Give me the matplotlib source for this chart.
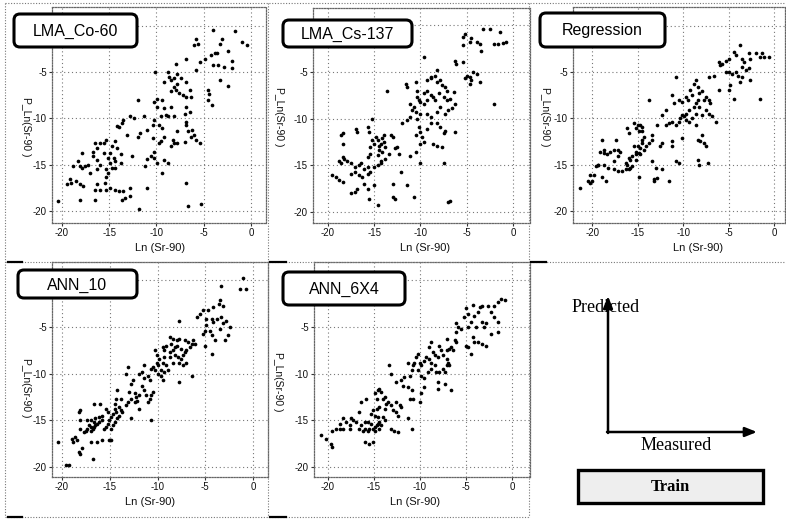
import matplotlib
matplotlib.use("Agg")
import matplotlib.pyplot as plt
from matplotlib.patches import FancyBboxPatch, Rectangle

# ---------------- data ----------------
x_ticks = [-20, -15, -10, -5, 0]
x_tick_labels = ['-20', '-15', '-10', '-5', '0']
y_ticks = [-20, -15, -10, -5, 0]
y_tick_labels = ['-20', '-15', '-10', '-5', '']
panel_titles = ['LMA_Co-60', 'LMA_Cs-137', 'Regression', 'ANN_10', 'ANN_6X4']
x_label = 'Ln (Sr-90)'
y_label = 'P_Ln(Sr-90 )'

co60_x = [-4.0,-1.7,-5.8,-5.6,-6.0,-3.1,-3.3,-1.0,-0.4,-2.4,
          -3.8,-4.2,-3.6,-4.9,-5.4,-6.9,-2.0,-3.5,-4.0,-2.9,
          -2.0,-7.9,-8.8,-10.2,-8.7,-8.5,-8.1,-7.8,-7.4,-5.8,
          -6.9,-7.8,-9.2,-8.1,-3.3,-2.4,-4.5,-4.4,-8.5,-7.9,
          -7.6,-7.2,-6.5,-6.3,-6.9,-4.5,-4.1,-9.4,-9.9,-10.3,
          -12.0,-9.9,-9.2,-8.5,-8.1,-9.0,-9.5,-6.9,-6.5,-7.0,
          -6.9,-6.9,-8.8,-12.8,-11.3,-12.4,-13.5,-13.7,-14.2,-10.3,
          -10.4,-11.0,-11.7,-13.1,-14.0,-12.0,-9.7,-9.4,-9.2,-9.5,
          -9.7,-10.4,-7.8,-8.3,-8.1,-7.8,-7.0,-6.7,-6.2,-6.3,
          -6.0,-5.8,-5.4,-8.5,-10.3,-10.6,-10.3,-9.2,-9.9,-8.8,
          -11.2,-9.4,-11.0,-12.6,-13.8,-14.2,-14.7,-14.4,-15.3,-15.6,
          -16.0,-16.5,-16.3,-16.7,-15.6,-14.9,-15.1,-14.5,-14.4,-14.9,
          -13.8,-14.4,-14.7,-15.3,-15.1,-16.7,-16.3,-17.2,-17.6,-17.9,
          -18.1,-18.3,-18.8,-17.9,-17.0,-16.3,-16.0,-15.3,-15.4,-16.3,
          -19.2,-18.5,-18.1,-17.8,-19.5,-19.0,-16.5,-16.0,-15.3,-14.9,
          -14.4,-14.0,-13.5,-12.8,-11.0,-6.9,-13.7,-13.3,-12.8,-18.1,
          -16.5,-20.4,-11.9,-6.7,-5.3]
co60_y = [-0.5,-0.6,-1.5,-2.0,-2.1,-1.4,-2.0,-1.8,-2.1,-2.7,
          -3.0,-3.2,-3.0,-3.6,-3.9,-3.6,-3.8,-4.3,-4.3,-4.5,
          -4.6,-4.2,-5.0,-5.0,-5.5,-5.9,-5.7,-5.2,-5.7,-4.8,
          -6.1,-6.3,-6.1,-6.6,-5.9,-6.5,-7.0,-7.4,-7.1,-7.0,
          -7.3,-7.5,-6.9,-7.7,-7.7,-8.0,-8.6,-8.0,-7.9,-8.2,
          -8.0,-8.8,-8.9,-8.8,-9.8,-9.6,-9.8,-8.8,-9.3,-9.5,
          -10.4,-10.7,-9.8,-9.8,-9.8,-10.0,-10.2,-10.5,-10.8,-10.2,
          -10.7,-11.3,-11.6,-11.8,-10.9,-12.0,-10.7,-11.1,-12.0,-12.5,
          -12.7,-12.1,-11.4,-12.3,-12.7,-12.7,-12.6,-11.4,-11.3,-12.0,
          -11.8,-12.3,-12.7,-13.0,-13.6,-14.1,-14.3,-14.5,-14.8,-14.8,
          -15.2,-15.9,-14.4,-14.1,-13.9,-13.2,-13.0,-12.5,-12.3,-12.7,
          -12.7,-12.7,-13.2,-13.6,-13.8,-13.8,-14.3,-14.3,-14.6,-14.8,
          -14.8,-15.4,-15.4,-15.5,-15.9,-14.1,-14.5,-15.0,-15.2,-15.4,
          -15.2,-14.6,-15.2,-13.8,-15.9,-15.5,-15.0,-16.3,-17.0,-17.1,
          -16.6,-16.8,-17.1,-17.3,-17.1,-17.0,-17.7,-17.7,-17.7,-17.5,
          -17.7,-17.8,-17.8,-17.5,-17.5,-17.0,-18.8,-18.6,-18.4,-18.8,
          -18.8,-18.9,-19.8,-19.5,-19.3]

cs137_x = [-5.2,-3.2,-2.5,-1.4,-5.4,-4.5,-4.6,-3.9,-3.6,-3.4,
           -5.4,-2.1,-1.6,-1.1,-0.7,-9.6,-6.3,-6.1,-5.4,-5.0,
           -5.2,-4.6,-4.5,-4.3,-3.9,-3.6,-4.6,-2.0,-8.2,-8.4,
           -8.8,-7.9,-7.7,-7.3,-7.1,-8.2,-8.9,-9.3,-10.5,-11.6,
           -11.4,-10.4,-9.6,-9.3,-8.9,-10.4,-10.2,-10.0,-9.6,-9.3,
           -8.6,-8.4,-8.0,-7.5,-7.1,-6.8,-6.4,-6.3,-6.6,-7.0,
           -7.3,-7.9,-8.2,-8.9,-9.3,-10.0,-10.5,-10.9,-11.1,-10.7,
           -11.1,-11.4,-12.0,-10.4,-10.2,-10.0,-10.5,-9.8,-9.3,-8.8,
           -8.2,-7.9,-7.3,-7.5,-6.3,-8.6,-8.2,-7.7,-10.0,-9.6,
           -10.5,-7.5,-11.1,-13.6,-15.2,-17.0,-16.8,-15.7,-15.5,-15.2,
           -15.0,-15.4,-15.4,-15.7,-14.8,-14.6,-14.5,-14.3,-14.1,-13.9,
           -13.8,-14.5,-14.1,-14.6,-13.9,-13.2,-13.0,-12.5,-12.7,-12.3,
           -13.4,-13.8,-14.3,-14.3,-14.6,-15.0,-15.7,-16.1,-16.4,-16.6,
           -17.1,-17.5,-17.9,-18.2,-18.4,-18.6,-18.8,-19.5,-19.1,-18.8,
           -18.4,-17.5,-17.1,-16.6,-16.3,-15.7,-15.4,-16.1,-15.0,-15.7,
           -16.8,-17.1,-17.5,-15.5,-13.0,-13.0,-12.7,-11.4,-10.7,-6.8,
           -7.0,-14.6,-18.4,-18.6,-18.4,-10.0,-12.1]
cs137_y = [-0.9,-0.4,-0.4,-0.7,-1.3,-1.4,-1.8,-1.8,-2.0,-2.7,
           -2.1,-2.0,-2.0,-1.9,-1.8,-3.4,-3.8,-4.1,-3.9,-5.4,
           -5.7,-5.5,-5.9,-5.0,-5.2,-6.1,-6.3,-8.4,-4.8,-5.4,
           -5.5,-5.9,-6.4,-6.6,-7.0,-6.1,-5.7,-5.9,-6.1,-6.3,
           -6.6,-7.0,-7.3,-7.0,-7.5,-7.7,-8.0,-8.2,-8.4,-8.0,
           -7.7,-8.0,-7.3,-7.7,-8.0,-7.9,-7.1,-8.4,-8.9,-9.1,
           -9.5,-8.8,-9.3,-9.8,-9.5,-9.5,-9.3,-9.1,-8.4,-8.8,
           -9.8,-10.2,-10.5,-10.0,-10.9,-11.4,-11.8,-12.0,-11.1,-10.5,
           -10.5,-10.9,-11.3,-11.6,-11.4,-12.7,-12.9,-13.0,-12.7,-12.5,
           -13.6,-14.8,-14.0,-7.0,-10.0,-11.1,-11.4,-10.9,-11.4,-12.3,
           -12.7,-13.0,-13.8,-14.1,-12.0,-12.3,-12.9,-12.7,-12.1,-12.5,
           -13.0,-13.4,-13.6,-13.9,-11.8,-11.8,-12.0,-13.0,-13.2,-13.8,
           -13.8,-14.3,-14.5,-14.8,-15.0,-15.2,-15.2,-15.4,-14.8,-15.0,
           -15.2,-14.8,-14.6,-14.3,-14.1,-14.8,-14.6,-16.1,-16.3,-16.6,
           -16.8,-15.9,-15.7,-16.1,-16.3,-15.9,-15.7,-17.0,-17.1,-17.5,
           -17.5,-17.9,-18.0,-18.6,-17.0,-18.4,-18.6,-17.1,-18.4,-18.8,
           -18.9,-19.3,-12.7,-11.8,-11.6,-14.8,-15.7]

reg_x = [-3.7,-4.4,-5.0,-5.7,-6.1,-5.9,-5.3,-4.2,-3.5,-3.3,
         -2.8,-2.0,-1.3,-0.6,-1.1,-1.6,-2.6,-3.1,-2.8,-3.5,
         -4.2,-4.0,-4.6,-5.0,-5.3,-3.5,-3.7,-4.8,-5.0,-4.4,
         -2.6,-1.6,-6.1,-6.6,-7.2,-8.6,-8.8,-8.4,-9.2,-9.0,
         -7.9,-8.3,-7.5,-7.2,-7.0,-7.7,-8.4,-8.6,-8.8,-9.7,
         -9.5,-10.1,-10.5,-11.0,-10.8,-11.2,-13.8,-8.3,-7.5,-7.2,
         -6.8,-6.4,-7.9,-8.6,-9.4,-9.7,-9.9,-10.1,-10.3,-10.5,
         -10.8,-11.2,-11.6,-11.9,-12.3,-11.9,-9.7,-9.4,-9.0,-8.6,
         -12.9,-13.4,-13.4,-13.8,-12.3,-12.5,-11.2,-11.2,-10.1,-8.4,
         -8.1,-7.9,-7.7,-7.5,-8.4,-7.3,-8.3,-16.2,-16.0,-15.4,
         -15.2,-15.0,-14.7,-14.5,-14.9,-14.5,-14.3,-14.5,-14.5,-14.1,
         -14.3,-14.7,-15.0,-15.4,-15.2,-14.9,-14.7,-15.2,-15.6,-16.0,
         -15.8,-16.3,-16.2,-15.2,-15.6,-15.8,-16.0,-16.3,-16.7,-17.2,
         -17.6,-18.2,-18.7,-17.6,-17.2,-16.9,-17.1,-17.6,-18.0,-18.4,
         -18.7,-19.1,-18.7,-18.9,-17.4,-19.4,-19.3,-19.6,-19.8,-20.4,
         -20.2,-20.0,-18.9,-18.5,-14.9,-13.4,-13.0,-13.2,-13.2,-12.9,
         -12.3,-10.8,-10.5,-11.6,-21.3,-20.2]
reg_y = [-2.1,-2.9,-3.6,-4.1,-3.9,-4.3,-3.8,-3.2,-3.6,-3.9,
         -3.0,-3.0,-3.0,-3.4,-3.4,-3.4,-3.6,-4.8,-4.6,-4.5,
         -5.0,-5.4,-5.2,-5.0,-5.0,-5.5,-6.1,-6.4,-7.0,-7.9,
         -5.9,-7.9,-7.0,-5.4,-5.5,-5.9,-6.3,-6.6,-7.0,-7.5,
         -7.1,-7.3,-7.7,-8.0,-8.4,-8.0,-8.0,-8.4,-8.8,-7.7,
         -8.0,-8.2,-8.0,-8.4,-5.5,-7.5,-8.0,-8.8,-9.1,-9.5,
         -9.8,-10.4,-9.6,-9.5,-9.1,-9.5,-9.8,-9.6,-10.0,-10.4,
         -10.7,-10.4,-10.5,-9.1,-9.6,-10.7,-10.2,-10.4,-10.0,-10.7,
         -10.7,-11.8,-12.3,-12.7,-12.7,-13.0,-12.5,-13.0,-12.1,-12.3,
         -12.5,-11.8,-12.7,-13.0,-14.5,-14.8,-15.0,-11.1,-11.6,-10.5,
         -11.1,-10.7,-10.7,-10.9,-11.4,-11.4,-12.0,-12.3,-12.7,-13.0,
         -13.4,-13.2,-13.0,-13.0,-13.6,-13.8,-13.9,-13.9,-14.1,-14.3,
         -14.5,-14.8,-15.0,-14.5,-15.2,-15.4,-15.5,-15.5,-15.7,-15.7,
         -15.5,-15.4,-15.0,-14.6,-14.1,-13.6,-13.4,-13.4,-13.6,-13.9,
         -13.8,-13.6,-13.4,-12.3,-12.3,-15.0,-15.0,-15.2,-16.1,-16.8,
         -17.0,-16.8,-16.3,-16.8,-16.3,-14.6,-15.4,-16.6,-16.8,-16.4,
         -15.5,-14.6,-14.8,-16.8,-17.5,-16.1]

ann10_x = [-1.1,-0.7,-1.4,-3.3,-3.5,-3.6,-3.1,-4.2,-4.7,-5.2,
           -5.6,-5.9,-4.9,-4.3,-3.8,-3.3,-2.8,-2.4,-3.1,-4.2,
           -4.9,-5.0,-4.5,-3.5,-4.3,-4.0,-2.9,-2.6,-5.2,-4.3,
           -5.0,-7.7,-8.7,-8.4,-8.0,-7.7,-7.1,-6.8,-6.4,-6.3,
           -6.1,-6.6,-7.0,-7.1,-7.5,-8.0,-8.2,-8.6,-9.1,-9.4,
           -9.3,-8.7,-8.4,-8.2,-7.9,-7.5,-7.3,-7.0,-7.3,-7.7,
           -8.4,-8.7,-9.3,-10.3,-10.1,-9.8,-9.4,-9.1,-8.9,-9.3,
           -9.6,-10.0,-10.1,-10.5,-10.7,-10.3,-10.0,-9.6,-9.4,-7.7,
           -6.4,-11.4,-11.6,-11.4,-11.0,-10.8,-11.9,-13.1,-13.3,-12.6,
           -12.8,-13.0,-12.4,-12.3,-11.9,-12.1,-11.6,-11.4,-11.2,-10.8,
           -10.7,-10.5,-11.0,-11.9,-12.4,-12.8,-13.1,-13.3,-13.8,-14.2,
           -14.4,-14.5,-14.0,-13.8,-13.7,-14.0,-14.2,-14.4,-14.5,-14.7,
           -14.9,-15.1,-15.2,-15.4,-15.6,-14.9,-14.7,-14.5,-15.2,-15.8,
           -16.1,-16.3,-16.5,-16.7,-16.8,-17.0,-17.2,-17.4,-17.5,-17.7,
           -17.0,-16.7,-16.5,-16.1,-15.8,-15.4,-16.0,-16.7,-17.0,-17.4,
           -18.1,-18.2,-18.1,-18.1,-18.4,-19.0,-18.6,-18.8,-18.2,-18.1,
           -17.9,-20.4,-19.6,-19.3,-16.8,-17.0,-16.3,-15.8,-15.1,-14.9,
           -10.7,-12.8]
ann10_y = [0.3,-0.9,-0.9,-0.6,-2.1,-2.5,-2.7,-2.9,-3.2,-3.2,
           -3.6,-3.9,-4.1,-4.1,-4.1,-3.9,-4.3,-5.0,-4.6,-4.5,
           -4.8,-5.4,-5.4,-5.2,-5.9,-6.4,-6.4,-5.9,-5.7,-7.9,
           -7.0,-4.3,-6.1,-6.3,-6.4,-6.3,-6.4,-6.6,-6.8,-6.4,
           -6.8,-7.1,-7.5,-7.7,-7.3,-7.0,-7.1,-6.8,-7.0,-7.1,
           -7.5,-7.7,-7.5,-8.0,-8.2,-8.4,-8.0,-8.8,-9.1,-8.8,
           -8.8,-8.2,-8.2,-7.5,-8.0,-8.4,-8.9,-9.1,-9.6,-9.8,
           -9.6,-9.1,-8.9,-9.3,-9.5,-9.6,-10.0,-10.2,-10.7,-10.9,
           -10.2,-9.1,-9.8,-10.5,-10.2,-10.7,-10.0,-9.3,-10.0,-10.7,
           -11.1,-12.0,-12.1,-12.5,-12.3,-12.9,-11.3,-11.8,-12.3,-12.7,
           -12.3,-12.0,-13.0,-13.8,-13.0,-12.7,-13.0,-13.4,-12.7,-11.8,
           -12.7,-13.2,-13.6,-13.9,-14.1,-14.5,-14.8,-14.1,-13.8,-14.3,
           -14.6,-15.0,-15.4,-15.7,-15.9,-15.9,-15.5,-15.2,-14.1,-15.0,
           -15.2,-15.4,-15.5,-15.7,-15.9,-15.7,-15.5,-15.9,-16.1,-16.3,
           -16.1,-15.2,-14.8,-14.6,-14.5,-13.8,-13.2,-13.2,-15.0,-15.0,
           -13.9,-14.1,-15.0,-15.9,-17.1,-17.0,-16.8,-17.3,-18.4,-18.6,
           -18.0,-17.3,-19.8,-19.8,-19.1,-17.3,-17.3,-17.1,-17.1,-17.1,
           -15.0,-14.8]

ann6x4_x = [-1.2,-0.8,-1.5,-1.9,-2.6,-3.3,-3.5,-4.2,-5.0,-4.8,
            -5.2,-3.7,-4.1,-4.4,-3.3,-2.8,-1.5,-2.3,-1.9,-6.1,
            -5.9,-5.5,-4.8,-3.9,-3.0,-2.3,-1.5,-4.2,-4.1,-3.7,
            -3.3,-2.8,-5.0,-4.4,-4.8,-6.1,-6.1,-7.1,-6.2,-6.6,
            -6.4,-6.8,-7.1,-7.7,-7.9,-8.8,-9.0,-8.6,-8.4,-8.0,
            -7.5,-7.1,-7.0,-6.8,-7.1,-7.5,-7.9,-8.2,-8.4,-8.8,
            -9.0,-9.3,-9.5,-9.9,-10.0,-10.2,-10.4,-10.6,-10.8,-10.2,
            -9.9,-9.5,-9.1,-8.8,-7.3,-8.0,-7.3,-8.0,-6.6,-9.5,
            -11.3,-10.9,-11.1,-11.7,-12.0,-11.8,-11.3,-10.9,-10.8,-11.1,
            -10.0,-9.9,-12.6,-13.3,-13.1,-14.4,-14.2,-14.6,-14.9,-14.7,
            -14.0,-13.8,-13.7,-13.5,-13.1,-12.9,-12.6,-12.4,-12.0,-12.2,
            -12.6,-13.8,-14.4,-14.7,-15.1,-15.3,-14.9,-14.6,-14.0,-13.8,
            -14.4,-14.6,-14.7,-14.9,-15.1,-15.5,-15.6,-16.0,-16.4,-16.6,
            -16.2,-15.3,-14.2,-14.4,-14.9,-15.6,-16.0,-16.6,-16.4,-15.8,
            -16.9,-17.3,-17.6,-18.0,-18.4,-18.7,-19.1,-19.5,-18.7,-18.4,
            -17.6,-13.1,-12.8,-12.4,-11.3,-10.9,-17.5,-20.7,-20.2,-19.6,
            -19.5,-16.0,-15.5,-15.1]
ann6x4_y = [-2.0,-2.1,-2.3,-2.7,-2.7,-2.7,-2.9,-2.6,-3.0,-3.6,
            -3.9,-3.4,-3.8,-4.5,-4.5,-4.6,-4.5,-3.4,-3.9,-4.6,
            -5.0,-5.2,-5.0,-5.0,-5.0,-5.7,-5.5,-6.1,-6.6,-6.6,
            -6.8,-7.0,-7.0,-7.9,-7.1,-5.5,-6.6,-6.3,-6.4,-7.1,
            -7.5,-7.3,-7.5,-7.5,-7.0,-6.6,-7.1,-7.7,-8.0,-8.2,
            -8.0,-8.4,-8.8,-9.1,-9.1,-9.5,-9.8,-9.8,-9.1,-8.8,
            -8.4,-8.2,-8.6,-9.1,-8.8,-7.9,-8.2,-8.8,-9.1,-9.6,
            -10.2,-10.5,-9.8,-9.5,-9.8,-10.9,-11.1,-11.6,-11.8,-11.4,
            -8.8,-9.6,-10.2,-10.4,-10.7,-11.3,-11.4,-11.8,-12.7,-12.7,
            -13.0,-12.1,-10.9,-9.1,-10.0,-11.6,-12.0,-11.8,-12.1,-12.7,
            -12.7,-12.5,-13.2,-13.0,-13.4,-13.9,-14.1,-14.5,-13.6,-13.4,
            -13.0,-13.8,-13.6,-13.8,-13.9,-14.3,-14.5,-14.6,-14.6,-15.0,
            -15.2,-15.4,-15.5,-15.7,-15.9,-15.9,-16.1,-15.9,-15.5,-15.9,
            -16.1,-15.4,-15.5,-15.9,-16.1,-15.2,-15.2,-14.1,-13.0,-12.7,
            -15.2,-15.0,-15.5,-15.2,-14.8,-15.9,-15.9,-16.1,-15.4,-15.9,
            -15.9,-15.9,-16.1,-16.3,-14.8,-15.9,-14.8,-16.6,-17.0,-17.5,
            -17.9,-17.3,-17.5,-17.3]

legend_y_text = 'Predicted'
legend_x_text = 'Measured'
legend_box_text = 'Train'

# ---------------- layout (pixel geometry of the scanned page) ----------------
W, H = 786, 519
fig = plt.figure(figsize=(W / 100, H / 100), dpi=100)
fig.patch.set_facecolor('white')


def add_px_axes(l, t, r, b):
    return fig.add_axes([l / W, 1 - b / H, (r - l) / W, (b - t) / H])


panel_specs = [
    # data x, data y, axes box (l,t,r,b), xlim, ylim, title box (l,t,r,b), ylabel pos, xlabel pos
    (co60_x, co60_y, (52, 7, 266, 223), (-21.06, 1.59), (-21.3, 2.0),
     (14, 14, 137, 47), (26, 127), (160, 248)),
    (cs137_x, cs137_y, (313, 8, 530, 223), (-21.6, 1.84), (-21.2, 1.86),
     (283, 20, 412, 47), (279, 117), (425, 248)),
    (reg_x, reg_y, (573, 7, 785, 223), (-22.1, 1.2), (-21.3, 2.0),
     (540, 13, 665, 47), (545, 117), (698, 248)),
    (ann10_x, ann10_y, (52, 262, 268, 477), (-21.05, 1.57), (-21.07, 1.97),
     (18, 270, 137, 298), (26, 388), (150, 502)),
    (ann6x4_x, ann6x4_y, (314, 262, 530, 477), (-21.5, 1.96), (-21.07, 1.97),
     (283, 272, 405, 305), (278, 382), (415, 502)),
]

overlay = fig.add_axes([0, 0, 1, 1], zorder=10)
overlay.set_xlim(0, W)
overlay.set_ylim(H, 0)
overlay.axis('off')
overlay.patch.set_alpha(0)

for (title, spec) in zip(panel_titles, panel_specs):
    xs, ys, box, xlim, ylim, tbox, ylpos, xlpos = spec
    ax = add_px_axes(*box)
    ax.set_xlim(*xlim)
    ax.set_ylim(*ylim)
    ax.set_axisbelow(True)
    ax.scatter(xs, ys, s=7, c='black', linewidths=0, zorder=3)
    ax.set_xticks(x_ticks)
    ax.set_xticklabels(x_tick_labels)
    ax.set_yticks(y_ticks)
    ax.set_yticklabels(y_tick_labels)
    ax.tick_params(axis='both', length=2.5, width=0.8, color='#333333',
                   labelsize=7, labelcolor='#111111', pad=1.2)
    for lab in ax.get_xticklabels() + ax.get_yticklabels():
        lab.set_fontfamily('Liberation Sans')
    ax.grid(True, linestyle=(0, (1, 2.5)), color='#777777', linewidth=0.8)
    for sp in ax.spines.values():
        sp.set_linestyle((0, (1, 1.2)))
        sp.set_color('#666666')
        sp.set_linewidth(0.9)
    # axis titles
    fig.text(ylpos[0] / W, 1 - ylpos[1] / H, y_label, rotation=270,
             ha='center', va='center', fontsize=7.5, family='Liberation Sans',
             color='#111111')
    fig.text(xlpos[0] / W, 1 - xlpos[1] / H, x_label,
             ha='center', va='center', fontsize=8, family='Liberation Sans',
             color='#111111')
    # rounded title box
    l, t, r, b = tbox
    overlay.add_patch(FancyBboxPatch((l, t), r - l, b - t,
                                     boxstyle='round,pad=0,rounding_size=6',
                                     facecolor='white', edgecolor='black',
                                     linewidth=2.2))
    overlay.text((l + r) / 2, (t + b) / 2 + 1, title, ha='center', va='center',
                 fontsize=11.5, family='Liberation Sans', color='black')

# page cell borders (dotted) and corner marks
dot = dict(color='#777777', linewidth=0.8, linestyle=(0, (1, 1.5)))
overlay.plot([5, 5], [3, 517], **dot)
overlay.plot([268, 268], [3, 517], **dot)
overlay.plot([529, 529], [3, 517], **dot)
overlay.plot([5, 786], [262, 262], **dot)
overlay.plot([5, 529], [517, 517], **dot)
overlay.plot([5, 786], [3, 3], **dot)
for (xa, xb, yy) in [(8, 22, 262), (270, 286, 262), (531, 546, 262),
                     (8, 22, 517), (270, 286, 517)]:
    overlay.plot([xa, xb], [yy, yy], color='black', linewidth=1.6)

# legend cell: measured vs predicted axes sketch
overlay.annotate('', xy=(608, 296), xytext=(608, 433),
                 arrowprops=dict(arrowstyle='-|>,head_length=0.7,head_width=0.28',
                                 color='black', lw=1.8, shrinkA=0, shrinkB=0))
overlay.annotate('', xy=(757, 432), xytext=(607, 432),
                 arrowprops=dict(arrowstyle='-|>,head_length=0.7,head_width=0.28',
                                 color='black', lw=1.8, shrinkA=0, shrinkB=0))
overlay.text(606, 307, legend_y_text, ha='center', va='center', fontsize=13,
             family='Liberation Serif', color='black')
overlay.text(676, 445, legend_x_text, ha='center', va='center', fontsize=13,
             family='Liberation Serif', color='black')
overlay.add_patch(Rectangle((578, 470), 185, 33, facecolor='#eeeeee',
                            edgecolor='black', linewidth=2.4))
overlay.text(670, 487, legend_box_text, ha='center', va='center', fontsize=12,
             family='Liberation Serif', fontweight='bold', color='black')

fig.savefig('out.png', dpi=100, facecolor='white')
